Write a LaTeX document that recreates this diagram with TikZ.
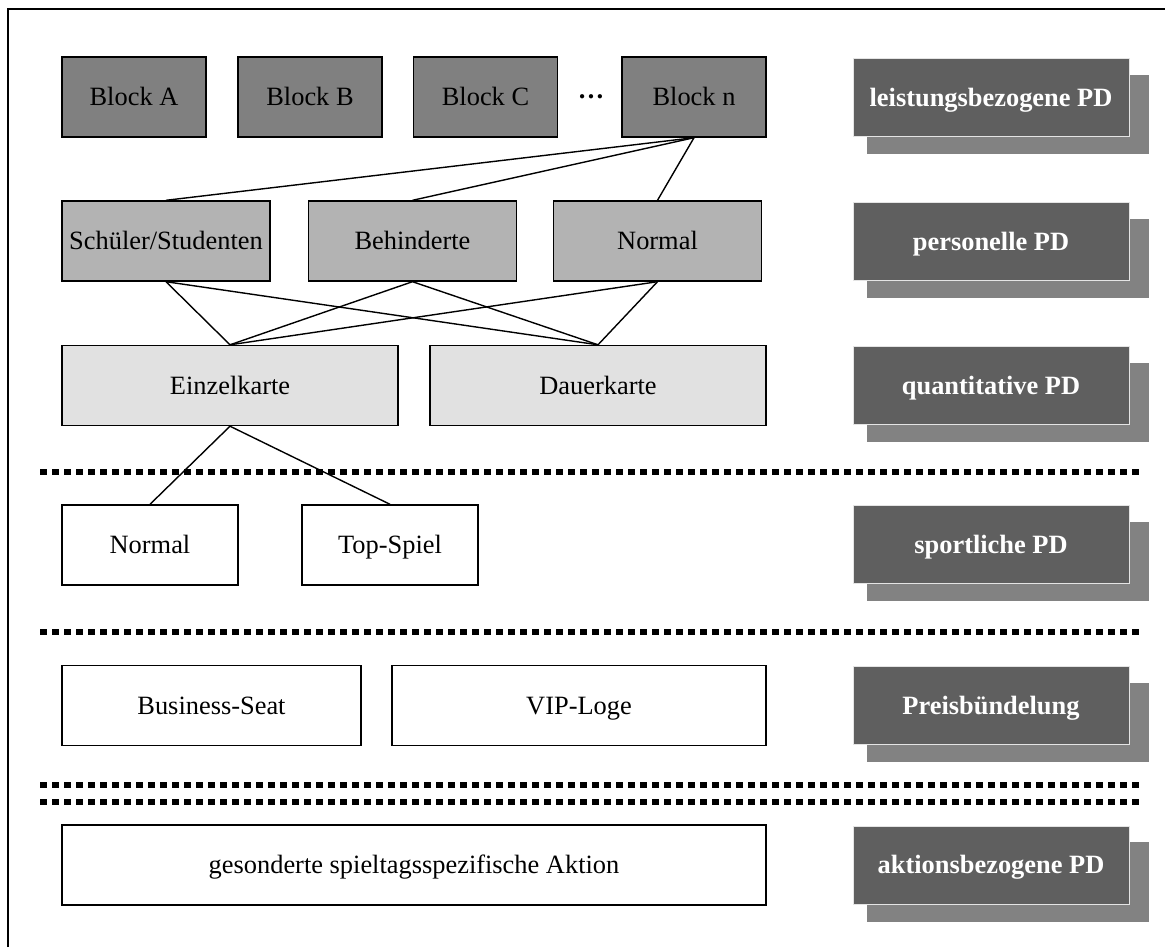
\documentclass[tikz,border=0pt]{standalone}
\usepackage{fontspec}
\setmainfont{Liberation Serif}
\usetikzlibrary{shadows}
\definecolor{blockgray}{HTML}{808080}
\definecolor{persgray}{HTML}{B3B3B3}
\definecolor{quantgray}{HTML}{E1E1E1}
\definecolor{labeldark}{HTML}{5F5F5F}
\definecolor{labelshade}{HTML}{828282}
\definecolor{labelrim}{HTML}{E4E4E4}

\begin{document}
\begin{tikzpicture}[x=0.5pt, y=-0.5pt, font=\fontsize{13.2}{16}\selectfont,
    cell/.style={draw, line width=0.7pt, inner sep=0pt, minimum height=40pt, fill=white,
        text height=8.8pt, text depth=0pt},
    link/.style={line width=0.7pt},
    sepline/.style={line width=2.6pt, dash pattern=on 3.5pt off 2.5pt},
    pdlabel/.style={fill=labeldark, draw=labelrim, line width=0.5pt, text=white,
        font=\fontsize{13.2}{16}\selectfont\bfseries, inner sep=0pt,
        text height=8.8pt, text depth=0pt,
        minimum width=138pt, minimum height=39pt,
        drop shadow={shadow xshift=8.25pt, shadow yshift=-8.25pt, shadow scale=1.02,
            opacity=1, fill=labelshade}}]
    \useasboundingbox (0,0) rectangle (1165,947);
    \draw[line width=1pt] (8,947) -- (8,9) -- (1165,9);

    % Bloecke
    \foreach \x/\n/\lbl in {134/blkA/Block A, 310/blkB/Block B, 485.5/blkC/Block C, 694/blkN/Block n}
        \node[cell, fill=blockgray, minimum width=72pt] (\n) at (\x,97) {\lbl};
    \node[font=\fontsize{13.2}{16}\selectfont\bfseries] (dots) at (591,97) {…};

    % Personengruppen
    \foreach \x/\n/\lbl in {166/pSchueler/{Schüler/Studenten}, 412.5/pBehind/Behinderte, 657.5/pNormal/Normal}
        \node[cell, fill=persgray, minimum width=104pt] (\n) at (\x,241) {\lbl};

    % Kartenart
    \node[cell, fill=quantgray, minimum width=168pt] (qEinzel) at (230,385.5) {Einzelkarte};
    \node[cell, fill=quantgray, minimum width=168pt] (qDauer) at (598,385.5) {Dauerkarte};

    % Spielkategorie
    \node[cell, minimum width=88pt] (sNormal) at (150,545) {Normal};
    \node[cell, minimum width=88pt] (sTop) at (390,545) {Top-Spiel};

    % Buendel und Aktion
    \node[cell, minimum width=149.5pt] (bSeat) at (211.5,705.5) {Business-Seat};
    \node[cell, minimum width=187pt] (bLoge) at (579,705.5) {VIP-Loge};
    \node[cell, minimum width=352pt] (aAktion) at (414,865) {gesonderte spieltagsspezifische Aktion};

    % Verbindungen
    \foreach \p in {pSchueler, pBehind, pNormal}
        \draw[link] (blkN.south) -- (\p.north);
    \foreach \p in {pSchueler, pBehind, pNormal}
        \foreach \q in {qEinzel, qDauer}
            \draw[link] (\p.south) -- (\q.north);
    \draw[link] (qEinzel.south) -- (sNormal.north);
    \draw[link] (qEinzel.south) -- (sTop.north);

    % Trennlinien
    \foreach \y in {472, 632, 785, 802}
        \draw[sepline] (40,\y) -- (1140,\y);

    % Arten der Preisdifferenzierung
    \foreach \y/\n/\lbl in {97.5/lLeist/leistungsbezogene PD, 241.5/lPers/personelle PD,
            385.5/lQuant/quantitative PD, 544.5/lSport/sportliche PD,
            705.5/lBuend/Preisbündelung, 865/lAktion/aktionsbezogene PD}
        \node[pdlabel] (\n) at (991,\y) {\lbl};
\end{tikzpicture}
\end{document}
